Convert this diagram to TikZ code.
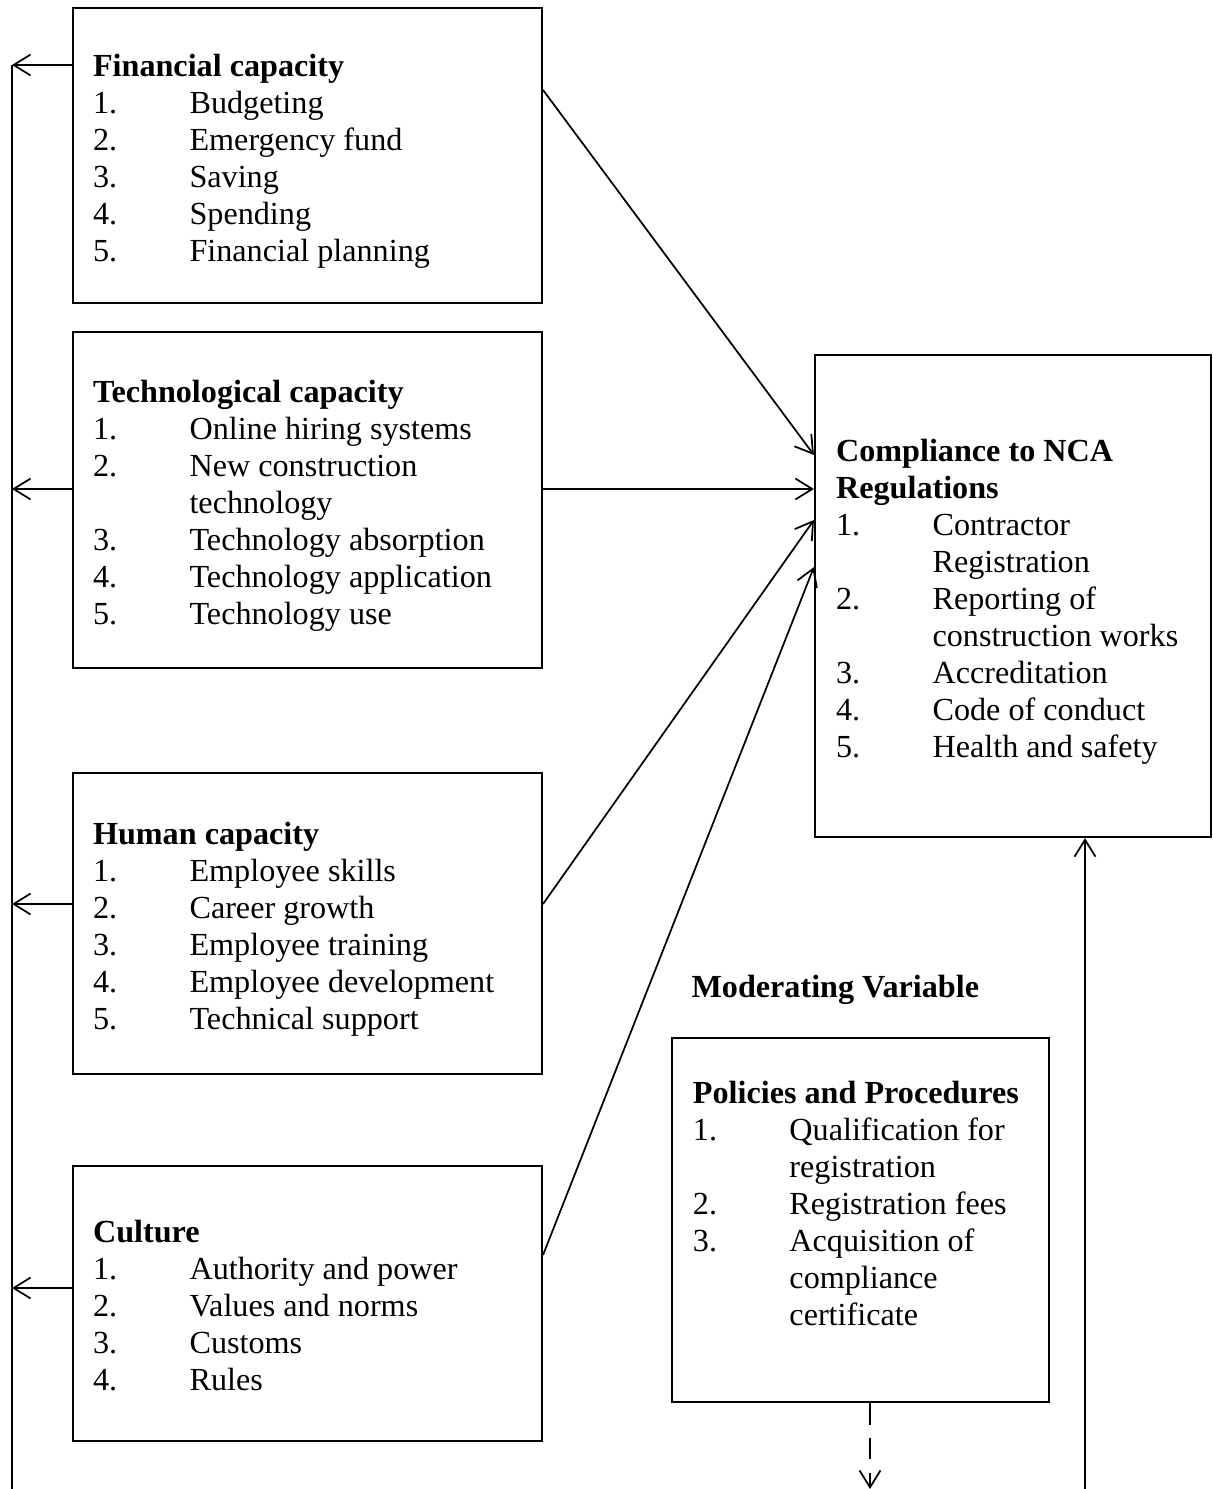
\documentclass[tikz,border=0pt]{standalone}
\usepackage{fontspec}
\setmainfont{Liberation Serif}
\usepackage{array}
\usetikzlibrary{arrows.meta,positioning}
\newcolumntype{L}[1]{>{\raggedright\arraybackslash\hyphenpenalty=10000}p{#1}}
\newcommand{\caplist}[3]{%
  \raisebox{-2.2pt}[\height][\depth]{\begin{tabular}{@{}L{36pt}@{}L{#1}@{}}
  \multicolumn{2}{@{}L{\dimexpr36pt+#1\relax}@{}}{\textbf{#2}}\\
  #3
  \end{tabular}}}

\begin{document}
\begin{tikzpicture}[x=0.373pt,y=-0.373pt,>={Straight Barb[length=6.3pt,width=7.8pt]},
	font=\fontsize{12pt}{13.8pt}\selectfont,
	capbox/.style={draw,line width=0.8pt,inner sep=0pt},
	link/.style={line width=0.65pt}]
		\useasboundingbox (0,0) rectangle (1212,1489);

		\node[capbox,minimum width=174.9pt,minimum height=110pt] (fin) at (307.5,155.5)
			{\caplist{124pt}{Financial capacity}{1. & Budgeting\\ 2. & Emergency fund\\ 3. & Saving\\ 4. & Spending\\ 5. & Financial planning}};
		\node[capbox,minimum width=174.9pt,minimum height=125.3pt] (tech) at (307.5,500)
			{\caplist{124pt}{Technological capacity}{1. & Online hiring systems\\ 2. & New construction technology\\ 3. & Technology absorption\\ 4. & Technology application\\ 5. & Technology use}};
		\node[capbox,minimum width=174.9pt,minimum height=112.3pt] (hum) at (307.5,923.5)
			{\caplist{124pt}{Human capacity}{1. & Employee skills\\ 2. & Career growth\\ 3. & Employee training\\ 4. & Employee development\\ 5. & Technical support}};
		\node[capbox,minimum width=174.9pt,minimum height=102.6pt] (cul) at (307.5,1303.5)
			{\caplist{124pt}{Culture}{1. & Authority and power\\ 2. & Values and norms\\ 3. & Customs\\ 4. & Rules}};
		\node[capbox,minimum width=147.7pt,minimum height=179.8pt] (comp) at (1013,596)
			{\caplist{96pt}{Compliance to NCA Regulations}{1. & Contractor Registration\\ 2. & Reporting of construction works\\ 3. & Accreditation\\ 4. & Code of conduct\\ 5. & Health and safety}};
		\node[capbox,minimum width=140.6pt,minimum height=135.8pt] (pol) at (860.5,1220)
			{\caplist{89pt}{Policies and Procedures}{1. & Qualification for registration\\ 2. & Registration fees\\ 3. & Acquisition of compliance certificate\\ &}};
		\node[inner sep=0pt,anchor=west] (mod) at (691,990) {\textbf{Moderating Variable}};

		\coordinate (fb1) at (12,65);
		\coordinate (fb2) at (12,489);
		\coordinate (fb3) at (12,904);
		\coordinate (fb4) at (12,1288);
		\coordinate (fbend) at (12,1489);
		\coordinate (modend) at (870,1489);
		\coordinate (compin) at (1085,1489);

		\draw[link] (fb1) -- (fbend);
		\path[->,link]
		(fin.west |- fb1) edge (fb1)
		(tech.west |- fb2) edge (fb2)
		(hum.west |- fb3) edge (fb3)
		(cul.west |- fb4) edge (fb4)
		(fin.east |- 0,90) edge (comp.west |- 0,455)
		(tech.east |- 0,489) edge (comp.west |- 0,489)
		(hum.east |- 0,904) edge (comp.west |- 0,520)
		(cul.east |- 0,1255) edge (comp.west |- 0,567)
		(pol.south -| modend) edge [dash pattern=on 8pt off 5pt] (modend)
		(compin) edge (comp.south -| compin)
		;
	\end{tikzpicture}
\end{document}
